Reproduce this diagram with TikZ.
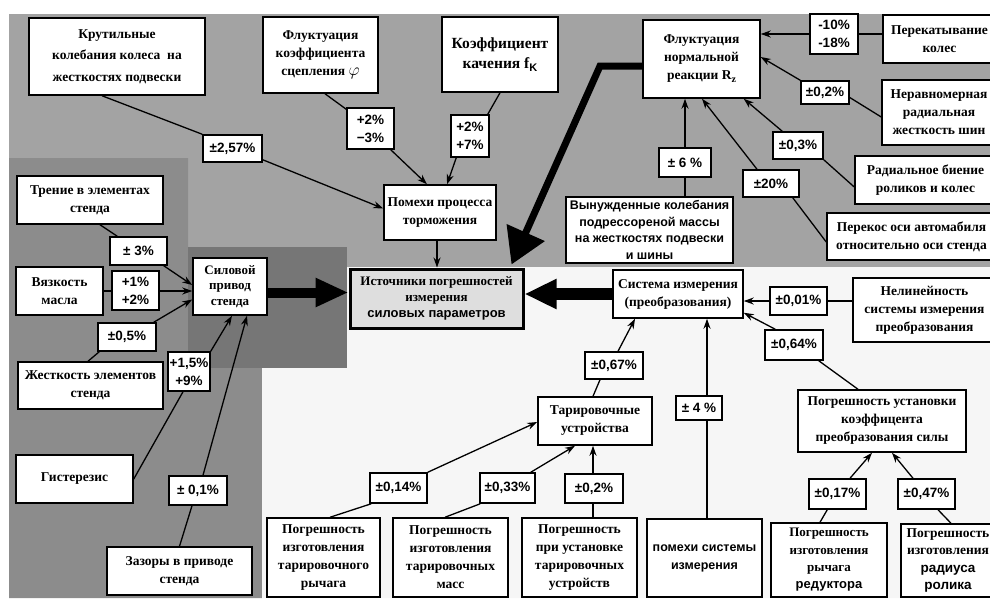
\documentclass[tikz,border=0pt]{standalone}
\usepackage{fontspec}
\setmainfont{Liberation Serif}
\setsansfont{Liberation Sans}
\usetikzlibrary{arrows.meta,calc}
\definecolor{gA}{RGB}{163,163,163}
\definecolor{gB}{RGB}{140,140,140}
\definecolor{gC}{RGB}{118,118,118}
\definecolor{gD}{RGB}{246,246,246}
\definecolor{gI}{RGB}{222,222,222}
\tikzset{
 box/.style={draw=black, line width=1.5pt, fill=white, align=center, inner sep=0pt, font=\fontsize{13.5}{18}\selectfont\bfseries},
 pct/.style={box, font=\fontsize{13.5}{18}\selectfont\sffamily\bfseries},
 conn/.style={line width=1.3pt, draw=black},
 arr/.style={conn, -{Stealth[length=10pt,width=7pt]}},
 bigarrow/.style={line width=10pt, line join=miter, -{Triangle[length=33pt,width=27pt]}},
}
\newcommand\mkbox[7]{\node[#1, minimum width={(#5)-(#3)}, minimum height={(#6)-(#4)}] (#2) at ({((#3)+(#5))/2},{((#4)+(#6))/2}) {#7};}
\begin{document}
\begin{tikzpicture}[x=1pt,y=-1pt]
\useasboundingbox (0,0) rectangle (990,598);
% backgrounds
\fill[white] (0,0) rectangle (990,598);
\fill[gA] (9,14) rectangle (990,598);
\fill[gB] (9,158) -- (188,158) -- (188,368) -- (262,368) -- (262,598) -- (9,598) -- cycle;
\fill[gC] (188,247) rectangle (347,368);
\fill[gD] (347,267) -- (990,267) -- (990,598) -- (262,598) -- (262,368) -- (347,368) -- cycle;
% nodes
\mkbox{box,font=\fontsize{13.5}{21.5}\selectfont\bfseries}{kr}{29}{18}{205}{95}{Крутильные\\колебания колеса\ \ на\\жесткостях подвески}
\mkbox{box}{phi}{263}{17}{378}{93}{Флуктуация\\коэффициента\\сцепления {\fontsize{19}{18}\selectfont$\varphi$}}
\mkbox{box,font=\fontsize{15.5}{20}\selectfont\bfseries}{fk}{442}{17}{558}{92}{Коэффициент\\качения f\raisebox{-3pt}{\fontsize{11}{11}\selectfont\sffamily\bfseries K}}
\mkbox{pct}{p257}{203}{135}{262}{162}{±2,57\%}
\mkbox{pct}{p23}{347}{108}{394}{149}{+2\%\\−3\%}
\mkbox{pct}{p27}{451}{115}{489}{157}{+2\%\\+7\%}
\mkbox{box}{pom}{384}{185}{496}{240}{Помехи процесса\\торможения}
\mkbox{box}{rz}{643}{20}{760}{98}{Флуктуация\\нормальной\\реакции R\raisebox{-3pt}{\fontsize{10}{10}\selectfont z}}
\mkbox{pct}{p1018}{810}{14}{858}{54}{-10\%\\-18\%}
\mkbox{box}{perek}{883}{15}{996}{63}{Перекатывание\\колес}
\mkbox{pct}{p02}{801}{81}{849}{104}{±0,2\%}
\mkbox{box}{nerav}{882}{80}{996}{145}{Неравномерная\\радиальная\\жесткость шин}
\mkbox{pct}{p03}{773}{132}{823}{159}{±0,3\%}
\mkbox{box}{rad}{855}{156}{996}{204}{Радиальное биение\\роликов и колес}
\mkbox{pct}{p20}{743}{170}{799}{197}{±20\%}
\mkbox{box}{perekos}{827}{213}{996}{260}{Перекос оси автомабиля\\относительно оси стенда}
\mkbox{pct}{p6}{659}{148}{711}{177}{± 6 \%}
\mkbox{box,font=\fontsize{12.5}{16.5}\selectfont\sffamily\bfseries}{vyn}{566}{197}{733}{263}{Вынужденные колебания\\подрессореной массы\\на жесткостях подвески\\и шины}
\mkbox{box,line width=3pt,fill=gI,font=\fontsize{13}{16}\selectfont\bfseries}{ist}{350}{269}{523}{328}{Источники погрешностей\\измерения\\{\sffamily силовых параметров}}
\mkbox{box,font=\fontsize{13}{15.5}\selectfont\bfseries}{sil}{193}{258}{267}{315}{Силовой\\привод\\стенда}
\mkbox{box}{sys}{613}{270}{743}{318}{Система измерения\\(преобразования)}
\mkbox{box}{tren}{17}{176}{163}{224}{Трение в элементах\\стенда}
\mkbox{pct}{p3}{110}{237}{167}{265}{± 3\%}
\mkbox{box}{vyaz}{16}{267}{103}{315}{Вязкость\\масла}
\mkbox{pct}{p12}{112}{271}{159}{310}{+1\%\\+2\%}
\mkbox{pct}{p05}{98}{323}{156}{351}{±0,5\%}
\mkbox{box}{zhest}{18}{362}{163}{409}{Жесткость элементов\\стенда}
\mkbox{pct}{p159}{168}{352}{210}{391}{+1,5\%\\+9\%}
\mkbox{box}{gist}{16}{455}{133}{503}{Гистерезис}
\mkbox{pct}{p01}{169}{476}{227}{505}{± 0,1\%}
\mkbox{box}{zaz}{107}{547}{252}{595}{Зазоры в приводе\\стенда}
\mkbox{pct}{p001}{770}{287}{827}{315}{±0,01\%}
\mkbox{box}{nelin}{853}{278}{996}{342}{Нелинейность\\системы измерения\\преобразования}
\mkbox{pct}{p064}{765}{330}{823}{360}{±0,64\%}
\mkbox{box}{pust}{798}{390}{966}{452}{Погрешность установки\\коэффицента\\преобразования силы}
\mkbox{pct}{p4}{676}{396}{722}{420}{± 4 \%}
\mkbox{pct}{p067}{585}{352}{643}{379}{±0,67\%}
\mkbox{box}{tar}{538}{397}{652}{445}{Тарировочные\\устройства}
\mkbox{pct}{p014}{370}{473}{427}{503}{±0,14\%}
\mkbox{pct}{p033}{480}{473}{535}{503}{±0,33\%}
\mkbox{pct}{p02b}{565}{474}{623}{503}{±0,2\%}
\mkbox{box}{b1}{267}{518}{380}{597}{Погрешность\\изготовления\\тарировочного\\рычага}
\mkbox{box}{b2}{393}{518}{508}{597}{Погрешность\\изготовления\\тарировочных\\масс}
\mkbox{box}{b3}{522}{518}{637}{597}{Погрешность\\при установке\\тарировочных\\устройств}
\mkbox{box,font=\fontsize{12.5}{18}\selectfont\sffamily\bfseries}{b4}{647}{519}{762}{597}{помехи системы\\измерения}
\mkbox{pct}{p017}{809}{479}{866}{509}{±0,17\%}
\mkbox{pct}{p047}{898}{479}{955}{509}{±0,47\%}
\mkbox{box,font=\fontsize{13}{17.3}\selectfont\bfseries}{b5}{771}{523}{887}{597}{Погрешность\\изготовления\\рычага\\{\sffamily редуктора}}
\mkbox{box,font=\fontsize{13.5}{17.3}\selectfont\bfseries}{b6}{901}{524}{995}{597}{Погрешность\\изготовления\\{\sffamily радиуса}\\{\sffamily ролика}}
% connectors
\draw[conn] ($(kr.south)+(-15,0)$) -- (p257.north west);
\draw[arr] ($(p257.south east)+(0,-3)$) -- ($(pom.west)+(0,-4)$);
\draw[conn] ($(phi.south)+(4.5,0)$) -- ($(p23.north west)+(0,2)$);
\draw[arr] ($(p23.south east)+(-4,0)$) -- ($(pom.north)+(-13,0)$);
\draw[conn] (fk.south) -- ($(p27.north east)+(-2,0)$);
\draw[arr] ($(p27.south west)+(6,0)$) -- ($(pom.north)+(7,0)$);
\coordinate (dx) at ($(pom.south)+(-3,0)$);
\draw[arr] (dx) -- (dx |- ist.north);
\draw[conn] (perek.west |- p1018.east) -- (p1018.east);
\draw[arr] (p1018.west) -- (p1018.west -| rz.east);
\draw[conn] ($(nerav.west)+(0,4.5)$) -- ($(p02.east)+(0,5)$);
\draw[arr] (p02.north west) -- ($(rz.east)+(0,-2)$);
\draw[conn] ($(rad.west)+(0,7)$) -- (p03.south east);
\draw[arr] ($(p03.north west)+(10,0)$) -- ($(rz.south east)+(-17,0)$);
\draw[conn] ($(perekos.west)+(0,5.5)$) -- ($(p20.south east)+(-7,0)$);
\draw[arr] ($(p20.north)+(-14,0)$) -- ($(rz.south)+(0.5,0)$);
\draw[conn] (vyn.north -| p6.south) -- (p6.south);
\draw[arr] (p6.north) -- (p6.north |- rz.south);
\draw[conn] ($(tren.south)+(10,0)$) -- ($(p3.north west)+(8,0)$);
\draw[arr] ($(p3.south east)+(-4,0)$) -- ($(sil.west)+(0,-1.5)$);
\draw[conn] (vyaz.east) -- (vyaz.east -| p12.west);
\draw[arr] (vyaz.east -| p12.east) -- (vyaz.east -| sil.west);
\draw[conn] ($(zhest.north)+(-2.5,0)$) -- ($(p05.south west)+(2,0)$);
\draw[arr] ($(p05.north east)+(-3,0)$) -- ($(sil.west)+(0,13)$);
\draw[conn] (gist.east) -- ($(p159.south)+(-6,0)$);
\draw[arr] (p159.north east) -- ($(sil.south)+(2,0)$);
\draw[conn] (zaz.north) -- ($(p01.south)+(-6,0)$);
\draw[arr] ($(p01.north)+(5,0)$) -- ($(sil.south)+(17,0)$);
\draw[conn] (nelin.west |- p001.east) -- (p001.east);
\draw[arr] (p001.west) -- (p001.west -| sys.east);
\draw[conn] ($(pust.north)+(-24,0)$) -- ($(p064.south east)+(-5,0)$);
\draw[arr] ($(p064.north west)+(11,0)$) -- ($(sys.south east)+(0,-6)$);
\coordinate (qx) at (707,0);
\draw[conn] (b4.north -| qx) -- (p4.south -| qx);
\draw[arr] (p4.north -| qx) -- (sys.south -| qx);
\draw[conn] ($(tar.north)+(-2,0)$) -- ($(p067.south)+(-14,0)$);
\draw[arr] ($(p067.north)+(4,0)$) -- ($(sys.south)+(-43,0)$);
\draw[conn] ($(b1.north)+(6.5,0)$) -- ($(p014.south west)+(2,0)$);
\draw[arr] (p014.north east) -- ($(tar.west)+(0,1)$);
\draw[conn] ($(b2.north)+(-5.5,0)$) -- ($(p033.south west)+(1,0)$);
\draw[arr] ($(p033.north east)+(-5,0)$) -- ($(tar.south)+(-20,0)$);
\coordinate (ux) at (593,0);
\draw[conn] (b3.north -| ux) -- (p02b.south -| ux);
\draw[arr] (p02b.north -| ux) -- (tar.south -| ux);
\draw[conn] ($(b5.north)+(-9,0)$) -- ($(p017.south west)+(19,0)$);
\draw[arr] ($(p017.north)+(12.5,0)$) -- ($(pust.south)+(-10,0)$);
\draw[conn] ($(b6.north)+(3,0)$) -- ($(p047.south)+(11.5,0)$);
\draw[arr] ($(p047.north)+(-13.5,0)$) -- ($(pust.south)+(10,0)$);
% big arrows
\coordinate (sa) at ($(sil.east)+(0,6)$);
\draw[bigarrow] (sa) -- (sa -| ist.west);
\draw[bigarrow, line width=12pt, -{Triangle[length=32pt,width=28pt]}] (sys.west) -- (sys.west -| ist.east);
\coordinate (bend) at (600,66);
\coordinate (tip) at ($(ist.north east)+(-13,-3)$);
\draw[line width=7pt, line join=miter, -{Triangle[length=35pt,width=40pt]}] (rz.west |- bend) -- (bend) -- (tip);
\end{tikzpicture}
\end{document}
